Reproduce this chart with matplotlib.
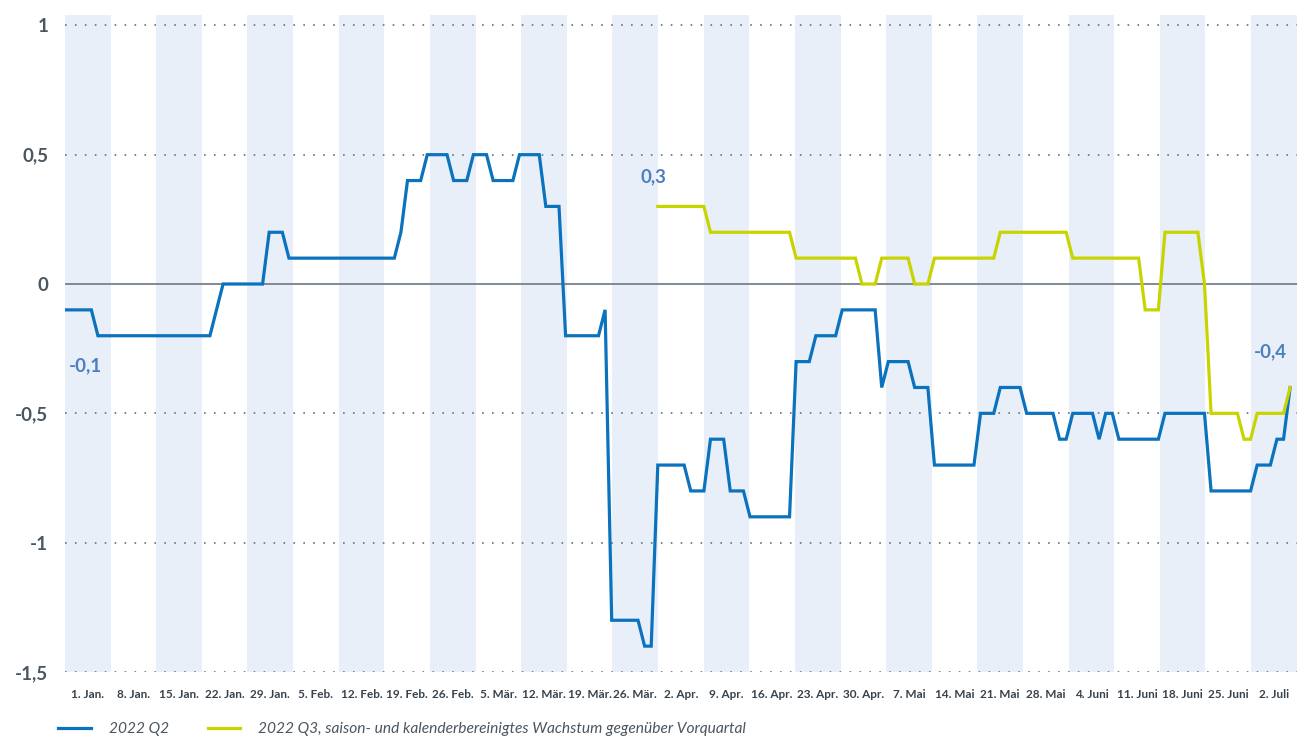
import matplotlib
matplotlib.use("Agg")
import matplotlib.pyplot as plt
from matplotlib.ticker import FuncFormatter
import numpy as np

# Daily nowcast values (index 0 = 1 Jan)
Q2_VALUES = [
    -0.1, -0.1, -0.1, -0.1, -0.1, -0.2, -0.2, -0.2, -0.2, -0.2,
    -0.2, -0.2, -0.2, -0.2, -0.2, -0.2, -0.2, -0.2, -0.2, -0.2,
    -0.2, -0.2, -0.2, -0.1, 0.0, 0.0, 0.0, 0.0, 0.0, 0.0,
    0.0, 0.2, 0.2, 0.2, 0.1, 0.1, 0.1, 0.1, 0.1, 0.1,
    0.1, 0.1, 0.1, 0.1, 0.1, 0.1, 0.1, 0.1, 0.1, 0.1,
    0.1, 0.2, 0.4, 0.4, 0.4, 0.5, 0.5, 0.5, 0.5, 0.4,
    0.4, 0.4, 0.5, 0.5, 0.5, 0.4, 0.4, 0.4, 0.4, 0.5,
    0.5, 0.5, 0.5, 0.3, 0.3, 0.3, -0.2, -0.2, -0.2, -0.2,
    -0.2, -0.2, -0.1, -1.3, -1.3, -1.3, -1.3, -1.3, -1.4, -1.4,
    -0.7, -0.7, -0.7, -0.7, -0.7, -0.8, -0.8, -0.8, -0.6, -0.6,
    -0.6, -0.8, -0.8, -0.8, -0.9, -0.9, -0.9, -0.9, -0.9, -0.9,
    -0.9, -0.3, -0.3, -0.3, -0.2, -0.2, -0.2, -0.2, -0.1, -0.1,
    -0.1, -0.1, -0.1, -0.1, -0.4, -0.3, -0.3, -0.3, -0.3, -0.4,
    -0.4, -0.4, -0.7, -0.7, -0.7, -0.7, -0.7, -0.7, -0.7, -0.5,
    -0.5, -0.5, -0.4, -0.4, -0.4, -0.4, -0.5, -0.5, -0.5, -0.5,
    -0.5, -0.6, -0.6, -0.5, -0.5, -0.5, -0.5, -0.6, -0.5, -0.5,
    -0.6, -0.6, -0.6, -0.6, -0.6, -0.6, -0.6, -0.5, -0.5, -0.5,
    -0.5, -0.5, -0.5, -0.5, -0.8, -0.8, -0.8, -0.8, -0.8, -0.8,
    -0.8, -0.7, -0.7, -0.7, -0.6, -0.6, -0.4,
]

Q3_START = 90  # Q3 nowcast begins in early April
Q3_VALUES = [
    0.3, 0.3, 0.3, 0.3, 0.3, 0.3, 0.3, 0.3, 0.2, 0.2,
    0.2, 0.2, 0.2, 0.2, 0.2, 0.2, 0.2, 0.2, 0.2, 0.2,
    0.2, 0.1, 0.1, 0.1, 0.1, 0.1, 0.1, 0.1, 0.1, 0.1,
    0.1, 0.0, 0.0, 0.0, 0.1, 0.1, 0.1, 0.1, 0.1, 0.0,
    0.0, 0.0, 0.1, 0.1, 0.1, 0.1, 0.1, 0.1, 0.1, 0.1,
    0.1, 0.1, 0.2, 0.2, 0.2, 0.2, 0.2, 0.2, 0.2, 0.2,
    0.2, 0.2, 0.2, 0.1, 0.1, 0.1, 0.1, 0.1, 0.1, 0.1,
    0.1, 0.1, 0.1, 0.1, -0.1, -0.1, -0.1, 0.2, 0.2, 0.2,
    0.2, 0.2, 0.2, 0.0, -0.5, -0.5, -0.5, -0.5, -0.5, -0.6,
    -0.6, -0.5, -0.5, -0.5, -0.5, -0.5, -0.4,
]

WEEK_LABELS = [
    "1. Jan.", "8. Jan.", "15. Jan.", "22. Jan.", "29. Jan.", "5. Feb.",
    "12. Feb.", "19. Feb.", "26. Feb.", "5. Mär.", "12. Mär.", "19. Mär.",
    "26. Mär.", "2. Apr.", "9. Apr.", "16. Apr.", "23. Apr.", "30. Apr.",
    "7. Mai", "14. Mai", "21. Mai", "28. Mai", "4. Juni", "11. Juni",
    "18. Juni", "25. Juni", "2. Juli",
]

SERIES_NAMES = [
    "2022 Q2",
    "2022 Q3, saison- und kalenderbereinigtes Wachstum gegenüber Vorquartal",
]

BLUE = "#0b72bd"
LIME = "#c8d400"
LABEL_BLUE = "#4d7fc0"
BAND = "#e8eff9"
TEXT = "#4a5660"

plt.rcParams["font.family"] = ["Lato", "DejaVu Sans"]

W, H = 1311, 742
fig = plt.figure(figsize=(W / 100, H / 100), dpi=100)
ax = fig.add_axes([65 / W, 70 / H, 1231.7 / W, 657 / H])

x_max = len(Q2_VALUES)  # plot spans one slot per daily value
n_weeks = len(WEEK_LABELS)
week_w = x_max / n_weeks

# alternating weekly bands
for k in range(0, n_weeks, 2):
    ax.axvspan(k * week_w, (k + 1) * week_w, color=BAND, lw=0, zorder=0)

# grid
for yv in [-1.5, -1.0, -0.5, 0.5, 1.0]:
    ax.axhline(yv, color="#6e7a84", lw=1.3, ls=(0, (0.9, 4.6)), zorder=1)
ax.axhline(0, color="#7f8a93", lw=1.4, zorder=1)

x_q2 = np.arange(len(Q2_VALUES))
x_q3 = Q3_START + np.arange(len(Q3_VALUES))
ax.plot(x_q2, Q2_VALUES, color=BLUE, lw=2.3, zorder=3, label=SERIES_NAMES[0],
        solid_joinstyle="miter")
ax.plot(x_q3, Q3_VALUES, color=LIME, lw=2.3, zorder=3, label=SERIES_NAMES[1],
        solid_joinstyle="miter")


def fmt(v):
    return f"{v:.1f}".replace(".", ",")


lab_kw = dict(textcoords="offset points", ha="center", va="center",
              fontsize=13.5, fontweight="bold", color=LABEL_BLUE, zorder=4)
ax.annotate(fmt(Q2_VALUES[0]), (x_q2[0], Q2_VALUES[0]), xytext=(15, -40), **lab_kw)
ax.annotate(fmt(Q3_VALUES[0]), (x_q3[0], Q3_VALUES[0]), xytext=(-3, 21), **lab_kw)
ax.annotate(fmt(Q2_VALUES[-1]), (x_q2[-1], Q2_VALUES[-1]), xytext=(-14, 26), **lab_kw)

ax.set_xlim(0, x_max)
ax.set_ylim(-1.5, 1.04)
ax.set_yticks([-1.5, -1.0, -0.5, 0, 0.5, 1.0])
ax.yaxis.set_major_formatter(FuncFormatter(
    lambda v, _: "0" if abs(v) < 1e-9 else (str(int(v)) if v == int(v) else fmt(v))))
ax.set_xticks((np.arange(n_weeks) + 0.5) * week_w)
ax.set_xticklabels(WEEK_LABELS)

for s in ax.spines.values():
    s.set_visible(False)
ax.tick_params(axis="y", length=0, pad=12, labelsize=13.5, labelcolor=TEXT)
ax.tick_params(axis="x", length=0, pad=12, labelsize=8.5, labelcolor="#36424c")
for t in ax.get_yticklabels() + ax.get_xticklabels():
    t.set_fontweight("bold")

fig.legend(loc="center left", bbox_to_anchor=(58 / W, 13 / H), ncol=2,
           frameon=False, borderaxespad=0, borderpad=0, handlelength=2.1,
           handletextpad=1.15, columnspacing=2.5,
           prop={"style": "italic", "size": 11.2}, labelcolor="#4a5660")

fig.savefig("out.png", dpi=100)
